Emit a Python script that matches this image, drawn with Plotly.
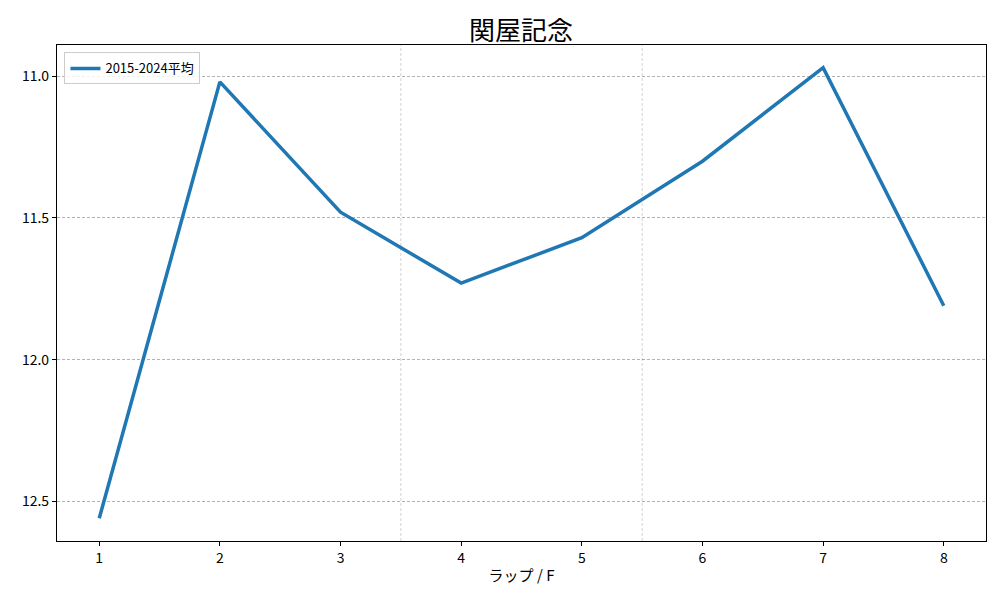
import plotly.graph_objects as go

laps = [1, 2, 3, 4, 5, 6, 7, 8]
avg_times = [12.56, 11.02, 11.48, 11.73, 11.57, 11.30, 10.97, 11.81]
series_name = "2015-2024平均"
y_ticks = [11.0, 11.5, 12.0, 12.5]
y_tick_labels = ["11.0", "11.5", "12.0", "12.5"]
section_lines = [3.5, 5.5]

FONT = "Noto Sans CJK JP, DejaVu Sans, sans-serif"
GRID = "rgba(0,0,0,0.3)"

fig = go.Figure()
fig.add_trace(go.Scatter(
    x=laps, y=avg_times, mode="lines", name=series_name,
    line=dict(color="#1f77b4", width=3.5),
))

for xv in section_lines:
    fig.add_shape(type="line", xref="x", yref="paper", x0=xv, x1=xv, y0=0, y1=1,
                  line=dict(color=GRID, width=0.6, dash="3px,2px"), layer="below")

fig.update_layout(
    width=1000, height=600,
    paper_bgcolor="white", plot_bgcolor="white",
    margin=dict(l=49, r=22, t=37, b=67, autoexpand=False),
    font=dict(family=FONT, size=14, color="black"),
    title=dict(text="関屋記念", x=0.513, xanchor="center", y=0.962, yanchor="middle",
               font=dict(size=26, family=FONT, color="black"), automargin=False),
    showlegend=True,
    legend=dict(x=0.008, y=0.985, xanchor="left", yanchor="top",
                bgcolor="rgba(255,255,255,0.8)", bordercolor="#cccccc", borderwidth=1,
                font=dict(size=13, family=FONT)),
)
fig.update_xaxes(
    range=[0.65, 8.35], tickvals=laps, ticktext=[str(v) for v in laps],
    showline=True, linecolor="black", linewidth=1.2, mirror=True,
    ticks="outside", ticklen=4, tickcolor="black",
    showgrid=False, zeroline=False, automargin=False,
    title=dict(text="ラップ / F", font=dict(size=15, family=FONT), standoff=4),
)
fig.update_yaxes(
    range=[12.64, 10.89], tickvals=y_ticks, ticktext=y_tick_labels,
    showline=True, linecolor="black", linewidth=1.2, mirror=True,
    ticks="outside", ticklen=4, tickcolor="black",
    showgrid=True, gridcolor=GRID, gridwidth=0.6, griddash="3px,2px",
    zeroline=False, automargin=False,
)

fig.write_html("out.html")
